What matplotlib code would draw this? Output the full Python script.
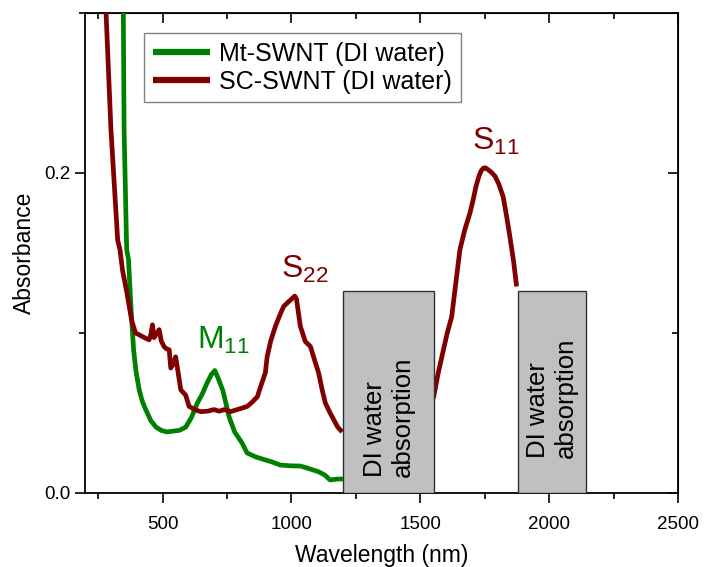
import matplotlib
matplotlib.use("Agg")
import matplotlib.pyplot as plt
from matplotlib.patches import Rectangle
from matplotlib.ticker import MultipleLocator
import numpy as np

plt.rcParams["font.family"] = ["Liberation Sans", "DejaVu Sans"]
plt.rcParams["mathtext.fontset"] = "custom"
plt.rcParams["mathtext.rm"] = "Liberation Sans"
plt.rcParams["mathtext.default"] = "regular"

# Mt-SWNT in DI water
mt_nm = np.array([348, 351, 361, 368, 378, 388, 398, 410, 422, 435, 455, 475, 495,
                  517, 540, 565, 590, 612, 635, 655, 674, 690, 703, 715, 734, 746,
                  758, 780, 809, 828, 860, 899, 930, 957, 1000, 1035, 1070, 1106,
                  1130, 1150, 1175, 1200])
mt_abs = np.array([0.300, 0.227, 0.152, 0.146, 0.115, 0.089, 0.075, 0.064, 0.057,
                   0.052, 0.045, 0.041, 0.039, 0.038, 0.0385, 0.039, 0.041, 0.047,
                   0.056, 0.062, 0.069, 0.074, 0.0764, 0.072, 0.064, 0.056, 0.0476,
                   0.038, 0.031, 0.0249, 0.0225, 0.0205, 0.019, 0.0173, 0.0168,
                   0.0167, 0.015, 0.0131, 0.011, 0.008, 0.0085, 0.0086])

# SC-SWNT in DI water, visible/short NIR part (before the first water band)
sc_vis_nm = np.array([281, 300, 326, 335, 345, 362, 380, 395, 410, 430, 448, 455,
                      461, 467, 475, 487, 495, 506, 515, 526, 532, 540, 551, 560,
                      571, 590, 603, 625, 648, 675, 700, 720, 740, 764, 790, 810,
                      829, 850, 868, 880, 899, 906, 920, 938, 955, 970, 990, 1000,
                      1013, 1020, 1027, 1035, 1054, 1074, 1090, 1106, 1120, 1132,
                      1150, 1165, 1180, 1197])
sc_vis_abs = np.array([0.300, 0.227, 0.158, 0.152, 0.139, 0.125, 0.108, 0.100,
                       0.0987, 0.097, 0.0956, 0.099, 0.105, 0.097, 0.099, 0.102,
                       0.095, 0.0914, 0.090, 0.0894, 0.078, 0.080, 0.085, 0.0758,
                       0.0643, 0.061, 0.054, 0.052, 0.0507, 0.051, 0.052, 0.051,
                       0.052, 0.0507, 0.052, 0.053, 0.054, 0.057, 0.060, 0.066,
                       0.075, 0.085, 0.095, 0.104, 0.111, 0.1165, 0.1196, 0.121,
                       0.123, 0.121, 0.113, 0.104, 0.0946, 0.0914, 0.083, 0.0748,
                       0.064, 0.056, 0.050, 0.0455, 0.041, 0.038])

# SC-SWNT, S11 region between the two water bands
sc_nir_nm = np.array([1551, 1570, 1590, 1605, 1622, 1638, 1654, 1673, 1693, 1705,
                      1717, 1728, 1737, 1745, 1753, 1762, 1775, 1790, 1805, 1822,
                      1835, 1848, 1862, 1874])
sc_nir_abs = np.array([0.059, 0.075, 0.0894, 0.100, 0.110, 0.131, 0.152, 0.1645,
                       0.175, 0.183, 0.192, 0.198, 0.2015, 0.203, 0.2032, 0.2022,
                       0.2005, 0.198, 0.193, 0.185, 0.173, 0.160, 0.145, 0.129])

# DI water absorption bands (start, end) and box height
water_bands = [(1200, 1555), (1880, 2145)]
band_height = 0.126
band_text_y = [0.0097, 0.022]

GREEN = "#008000"
DARKRED = "#800000"
LW = 3.4

fig = plt.figure(figsize=(7.04, 5.67), dpi=100)
ax = fig.add_axes([0.121, 0.131, 0.842, 0.846])

line_kw = dict(lw=LW, solid_joinstyle="round", solid_capstyle="butt", zorder=3)
ax.plot(mt_nm, mt_abs, color=GREEN, label="Mt-SWNT (DI water)", **line_kw)
ax.plot(sc_vis_nm, sc_vis_abs, color=DARKRED, label="SC-SWNT (DI water)", **line_kw)
ax.plot(sc_nir_nm, sc_nir_abs, color=DARKRED, **line_kw)

for (start, end), ytxt in zip(water_bands, band_text_y):
    ax.add_patch(Rectangle((start, 0), end - start, band_height, facecolor="#c0c0c0",
                           edgecolor="#303030", lw=1, zorder=4))
    ax.text((start + end) / 2, ytxt, "DI water\nabsorption", rotation=90,
            ha="center", va="bottom", multialignment="left", fontsize=18.5,
            linespacing=1.2, zorder=5)

ax.text(958, 0.1344, r"$S_{22}$", color=DARKRED, fontsize=23, va="baseline", ha="left")
ax.text(1699, 0.2146, r"$S_{11}$", color=DARKRED, fontsize=23, va="baseline", ha="left")
ax.text(633, 0.0898, r"$M_{11}$", color=GREEN, fontsize=23, va="baseline", ha="left")

ax.set_xlim(200, 2500)
ax.set_ylim(0, 0.3)
ax.xaxis.set_major_locator(MultipleLocator(500))
ax.xaxis.set_minor_locator(MultipleLocator(250))
ax.yaxis.set_major_locator(MultipleLocator(0.2))
ax.yaxis.set_minor_locator(MultipleLocator(0.1))
ax.yaxis.set_major_formatter(plt.FormatStrFormatter("%.1f"))
ax.tick_params(which="both", direction="out", width=1.2, labelsize=13.5)
ax.tick_params(which="major", length=7)
ax.tick_params(which="minor", length=4)
ax.tick_params(axis="x", which="major", pad=10)
for sp in ax.spines.values():
    sp.set_linewidth(1.3)

# inward ticks on the opposite sides
top = ax.secondary_xaxis("top")
top.xaxis.set_major_locator(MultipleLocator(500))
top.xaxis.set_minor_locator(MultipleLocator(250))
top.tick_params(which="both", direction="in", width=1.2, labeltop=False)
top.tick_params(which="major", length=7)
top.tick_params(which="minor", length=4)
right = ax.secondary_yaxis("right")
right.yaxis.set_major_locator(MultipleLocator(0.2))
right.yaxis.set_minor_locator(MultipleLocator(0.1))
right.tick_params(which="both", direction="in", width=1.2, labelright=False)
right.tick_params(which="major", length=7)
right.tick_params(which="minor", length=4)

ax.set_xlabel("Wavelength (nm)", fontsize=16.5, labelpad=8)
ax.set_ylabel("Absorbance", fontsize=16.5, labelpad=6)

leg = ax.legend(loc="upper left", bbox_to_anchor=(0.0995, 0.958), borderaxespad=0,
                fontsize=18, frameon=True, fancybox=False, handlelength=2.3,
                handletextpad=0.35, labelspacing=0.15, borderpad=0.35)
leg.get_frame().set_edgecolor("#606060")
leg.get_frame().set_linewidth(1.0)
for line in leg.get_lines():
    line.set_linewidth(4.5)

fig.savefig("out.png", dpi=100)
